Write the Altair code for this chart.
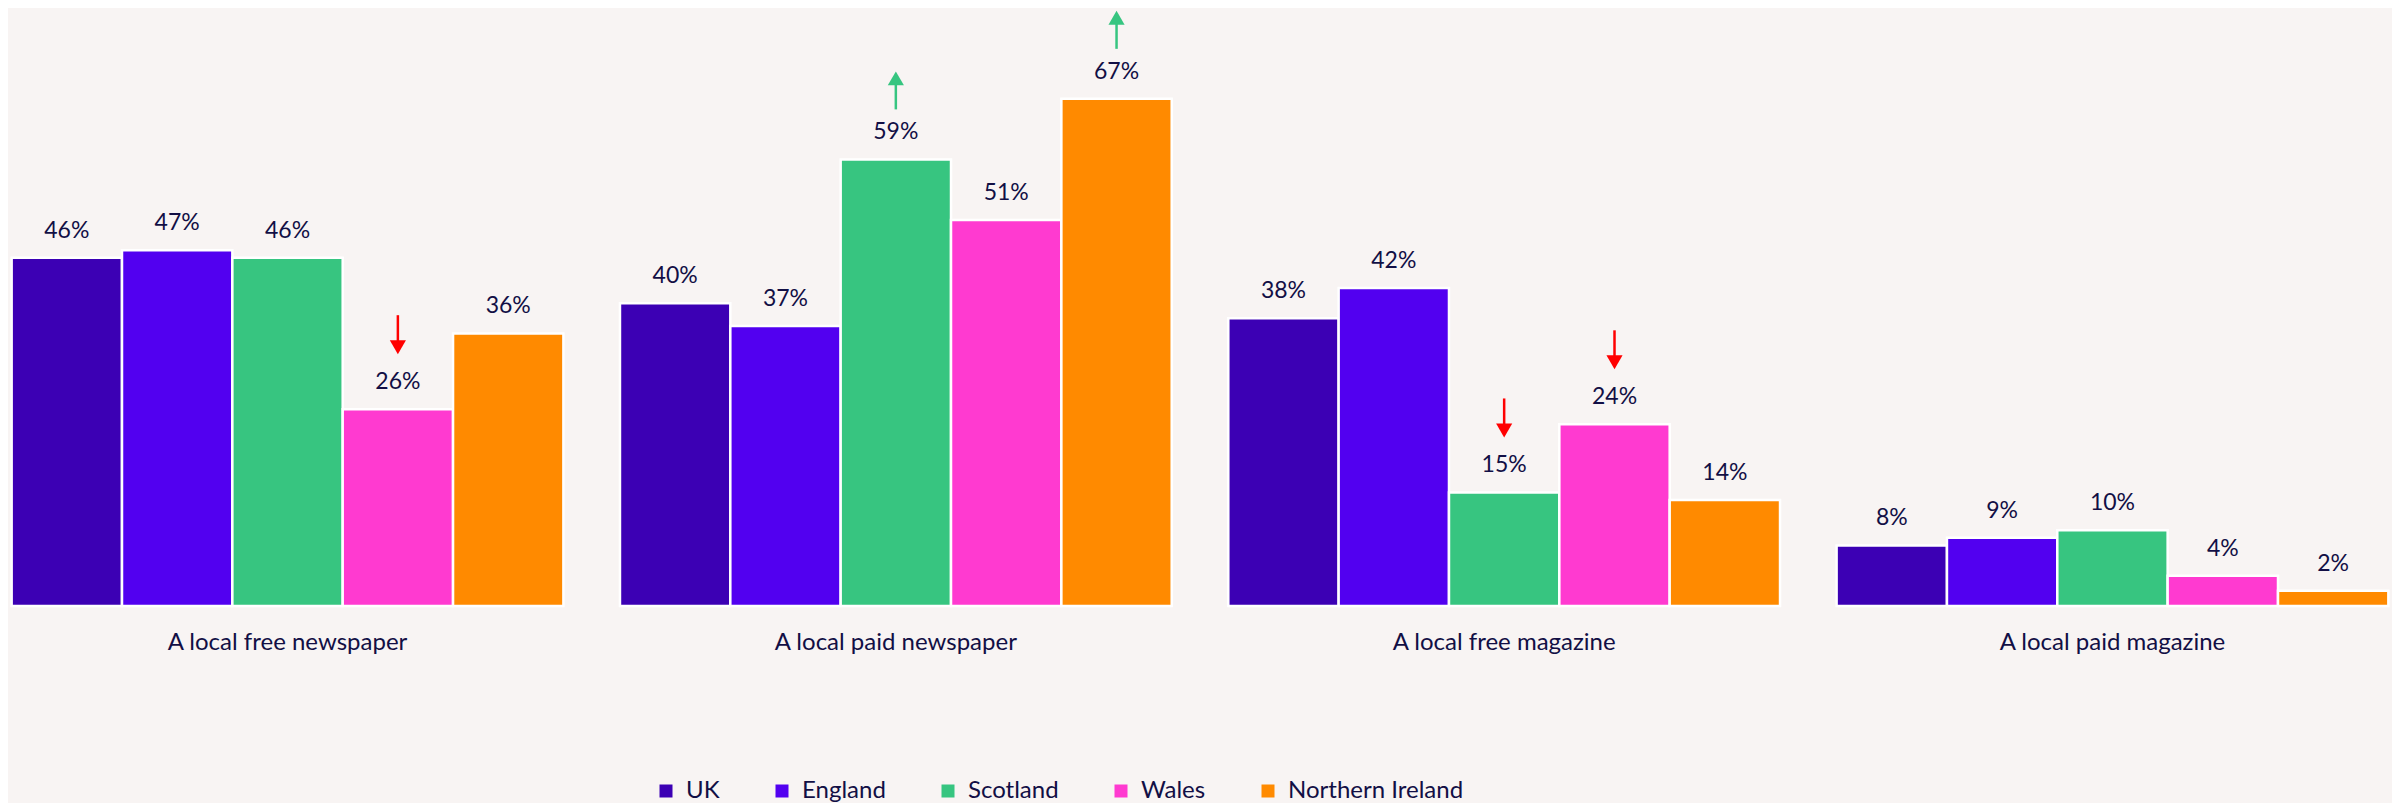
import altair as alt
import pandas as pd

categories = ["A local free newspaper", "A local paid newspaper",
              "A local free magazine", "A local paid magazine"]
nations = ["UK", "England", "Scotland", "Wales", "Northern Ireland"]
colors = ["#3c00b4", "#5200f0", "#37c580", "#ff3ad0", "#ff8a00"]

uk = [46, 40, 38, 8]
england = [47, 37, 42, 9]
scotland = [46, 59, 15, 10]
wales = [26, 51, 24, 4]
northern_ireland = [36, 67, 14, 2]

# significance markers (change vs UK)
uk_change = ["", "", "", ""]
england_change = ["", "", "", ""]
scotland_change = ["", "up", "down", ""]
wales_change = ["down", "", "down", ""]
ni_change = ["", "up", "", ""]

series = [uk, england, scotland, wales, northern_ireland]
changes = [uk_change, england_change, scotland_change, wales_change, ni_change]

rows = []
for nation, vals, chg in zip(nations, series, changes):
    for cat, v, c in zip(categories, vals, chg):
        rows.append({"category": cat, "nation": nation, "value": v, "change": c})
df = pd.DataFrame(rows)

TEXT = "#120f45"
FONT = "Lato"
RED = "#ff0000"
GREEN = "#37c580"

base = alt.Chart(df).encode(
    x=alt.X("category:N", sort=categories,
            scale=alt.Scale(domain=categories, paddingInner=0.093, paddingOuter=0.006),
            axis=alt.Axis(title=None, domain=False, ticks=False, tickSize=0,
                          labelPadding=24, labelFontSize=24, labelFont=FONT,
                          labelColor=TEXT, labelAngle=0, labelLimit=0)),
    xOffset=alt.XOffset("nation:N", sort=nations,
                        scale=alt.Scale(domain=nations, paddingInner=0.0, paddingOuter=0)),
    y=alt.Y("value:Q", scale=alt.Scale(domain=[0, 79], nice=False, zero=True), axis=None),
)

bars = base.mark_bar(stroke="white", strokeWidth=2.5).encode(
    color=alt.Color("nation:N", sort=nations,
                    scale=alt.Scale(domain=nations, range=colors),
                    legend=alt.Legend(orient="none", legendX=646, legendY=771,
                                      direction="horizontal", title=None,
                                      symbolType="square", symbolSize=169,
                                      symbolStrokeWidth=0, labelFontSize=24,
                                      labelFont=FONT, labelColor=TEXT, labelLimit=0,
                                      columnPadding=50, labelOffset=8, padding=0,
                                      gridAlign="none"))
)

labels = base.transform_calculate(label="datum.value + '%'").mark_text(
    dy=-27, baseline="middle", fontSize=23, font=FONT, color=TEXT
).encode(text="label:N")

down = base.transform_filter("datum.change == 'down'")
down_shaft = down.mark_rule(color=RED, strokeWidth=2.5, yOffset=-94, y2Offset=-66).encode(
    y2=alt.Y2("value:Q"))
down_head = down.mark_point(shape="triangle-down", filled=True, size=260, color=RED,
                            opacity=1, yOffset=-62)

up = base.transform_filter("datum.change == 'up'")
up_shaft = up.mark_rule(color=GREEN, strokeWidth=2.5, yOffset=-78, y2Offset=-50).encode(
    y2=alt.Y2("value:Q"))
up_head = up.mark_point(shape="triangle-up", filled=True, size=260, color=GREEN,
                        opacity=1, yOffset=-81)

chart = alt.layer(bars, labels, down_shaft, down_head, up_shaft, up_head).properties(
    width=2384, height=598, padding=0, background="#f8f4f3"
).configure_view(stroke=None)

chart.save("out.html", embed_options={"renderer": "svg", "actions": False})
